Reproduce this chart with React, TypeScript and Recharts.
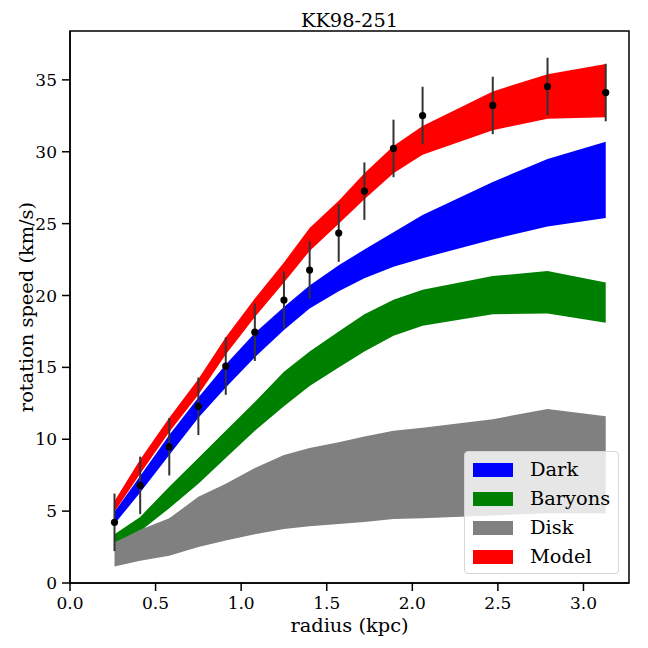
import React from 'react';
import { ComposedChart, Area, Scatter, ErrorBar, XAxis, YAxis, ReferenceArea } from 'recharts';

// radius (kpc) of the measured points, also the nodes of the model bands
const radius = [0.26, 0.41, 0.58, 0.75, 0.91, 1.08, 1.25, 1.4, 1.57, 1.72, 1.89, 2.06, 2.47, 2.79, 3.13];

// observed rotation speed (km/s) and its error
const observed = [4.22, 6.79, 9.48, 12.29, 15.09, 17.45, 19.68, 21.77, 24.34, 27.26, 30.23, 32.52, 33.22, 34.54, 34.12];
const observedErr = [2.0, 2.0, 2.0, 2.0, 2.0, 2.0, 2.0, 2.0, 2.0, 2.0, 2.0, 2.0, 2.0, 2.0, 2.0];

// bands: lower / upper edge
const darkLo = [4.1, 6.3, 8.9, 11.5, 13.6, 15.7, 17.6, 19.1, 20.3, 21.2, 22.0, 22.6, 23.9, 24.8, 25.4];
const darkHi = [4.95, 7.45, 10.3, 12.9, 15.2, 17.4, 19.2, 20.7, 22.1, 23.2, 24.4, 25.6, 27.9, 29.5, 30.7];
const baryonsLo = [2.8, 3.6, 5.2, 6.9, 8.7, 10.6, 12.3, 13.7, 15.0, 16.1, 17.2, 17.9, 18.7, 18.75, 18.1];
const baryonsHi = [3.4, 4.6, 6.7, 8.7, 10.6, 12.6, 14.7, 16.1, 17.5, 18.7, 19.7, 20.4, 21.35, 21.7, 20.9];
const diskLo = [1.15, 1.55, 1.9, 2.5, 2.95, 3.4, 3.75, 3.95, 4.1, 4.25, 4.45, 4.5, 4.7, 4.85, 4.85];
const diskHi = [2.8, 3.7, 4.5, 6.0, 6.9, 8.0, 8.9, 9.4, 9.8, 10.2, 10.6, 10.8, 11.4, 12.1, 11.6];
const modelLo = [4.95, 7.6, 10.5, 13.1, 15.9, 18.5, 20.9, 23.1, 25.0, 26.7, 28.5, 29.8, 31.5, 32.3, 32.4];
const modelHi = [5.7, 8.6, 11.5, 14.2, 17.1, 19.8, 22.3, 24.7, 26.6, 28.5, 30.4, 31.8, 34.2, 35.4, 36.1];

const xTicks = [0, 0.5, 1, 1.5, 2, 2.5, 3];
const yTicks = [0, 5, 10, 15, 20, 25, 30, 35];
const xMax = 3.266;
const yMax = 38.4;

const legendItems = [
  { name: 'Dark', color: '#0000ff' },
  { name: 'Baryons', color: '#008000' },
  { name: 'Disk', color: '#808080' },
  { name: 'Model', color: '#ff0000' },
];

const data = radius.map((r, i) => ({
  r,
  v: observed[i],
  err: observedErr[i],
  dark: [darkLo[i], darkHi[i]],
  baryons: [baryonsLo[i], baryonsHi[i]],
  disk: [diskLo[i], diskHi[i]],
  model: [modelLo[i], modelHi[i]],
}));

const font = '"DejaVu Serif", serif';
const tickStyle = { fill: '#000', fontSize: 17, fontFamily: font };
const labelSize = 19.4;

function LegendBox() {
  return (
    <div
      style={{
        position: 'absolute',
        left: 464,
        top: 451,
        width: 137,
        background: 'rgba(255,255,255,0.8)',
        border: '1px solid #d6d6d6',
        borderRadius: 4,
        padding: '3px 8px 2px 8px',
        fontFamily: font,
        fontSize: labelSize,
        color: '#000',
      }}
    >
      {legendItems.map((it) => (
        <div key={it.name} style={{ display: 'flex', alignItems: 'center', height: 29, whiteSpace: 'nowrap' }}>
          <span style={{ display: 'inline-block', width: 40, height: 14, background: it.color, marginRight: 17, flex: 'none' }} />
          <span>{it.name}</span>
        </div>
      ))}
    </div>
  );
}

function Dot(props: any) {
  const { cx, cy } = props;
  if (cx == null || cy == null) return null;
  return <circle cx={cx} cy={cy} r={3.6} fill="#000" />;
}

export default function App() {
  return (
    <div style={{ position: 'absolute', left: 0, top: 0, width: 648, height: 648, background: '#fff', fontFamily: font }}>
      <ComposedChart width={648} height={648} data={data} margin={{ top: 31, right: 19, bottom: 15, left: 0 }}>
        <XAxis
          dataKey="r"
          type="number"
          domain={[0, xMax]}
          ticks={xTicks}
          allowDataOverflow
          tickFormatter={(v: number) => v.toFixed(1)}
          tick={tickStyle}
          tickSize={8}
          tickMargin={6}
          tickLine={{ stroke: '#000', strokeWidth: 1.5 }}
          axisLine={{ stroke: '#000', strokeWidth: 1.5 }}
          height={50}
          label={{ value: 'radius (kpc)', position: 'insideBottom', offset: 1.5, fill: '#000', fontSize: labelSize, fontFamily: font }}
        />
        <YAxis
          type="number"
          domain={[0, yMax]}
          ticks={yTicks}
          allowDataOverflow
          tick={tickStyle}
          tickSize={8}
          tickMargin={5}
          tickLine={{ stroke: '#000', strokeWidth: 1.5 }}
          axisLine={{ stroke: '#000', strokeWidth: 1.5 }}
          width={70}
          label={{
            content: (p: any) => {
              const vb = p.viewBox;
              const x = vb.x + 26;
              const y = vb.y + vb.height / 2;
              return (
                <text
                  x={x}
                  y={y}
                  transform={`rotate(-90, ${x}, ${y})`}
                  textAnchor="middle"
                  dominantBaseline="central"
                  fill="#000"
                  fontSize={labelSize}
                  fontFamily={font}
                >
                  rotation speed (km/s)
                </text>
              );
            },
          }}
        />
        <Area type="linear" dataKey="dark" stroke="none" fill="#0000ff" fillOpacity={1} isAnimationActive={false} />
        <Area type="linear" dataKey="baryons" stroke="none" fill="#008000" fillOpacity={1} isAnimationActive={false} />
        <Area type="linear" dataKey="disk" stroke="none" fill="#808080" fillOpacity={1} isAnimationActive={false} />
        <Area type="linear" dataKey="model" stroke="none" fill="#ff0000" fillOpacity={1} isAnimationActive={false} />
        <Scatter dataKey="v" fill="#000" shape={Dot} isAnimationActive={false}>
          <ErrorBar dataKey="err" direction="y" width={0} stroke="#333" strokeWidth={2} />
        </Scatter>
        <ReferenceArea
          x1={0}
          x2={xMax}
          y1={0}
          y2={yMax}
          fill="none"
          fillOpacity={0}
          stroke="#000"
          strokeWidth={1.5}
          strokeOpacity={1}
          label={{ value: 'KK98-251', position: 'top', offset: 4, fill: '#000', fontSize: labelSize, fontFamily: font }}
        />
      </ComposedChart>
      <LegendBox />
    </div>
  );
}
